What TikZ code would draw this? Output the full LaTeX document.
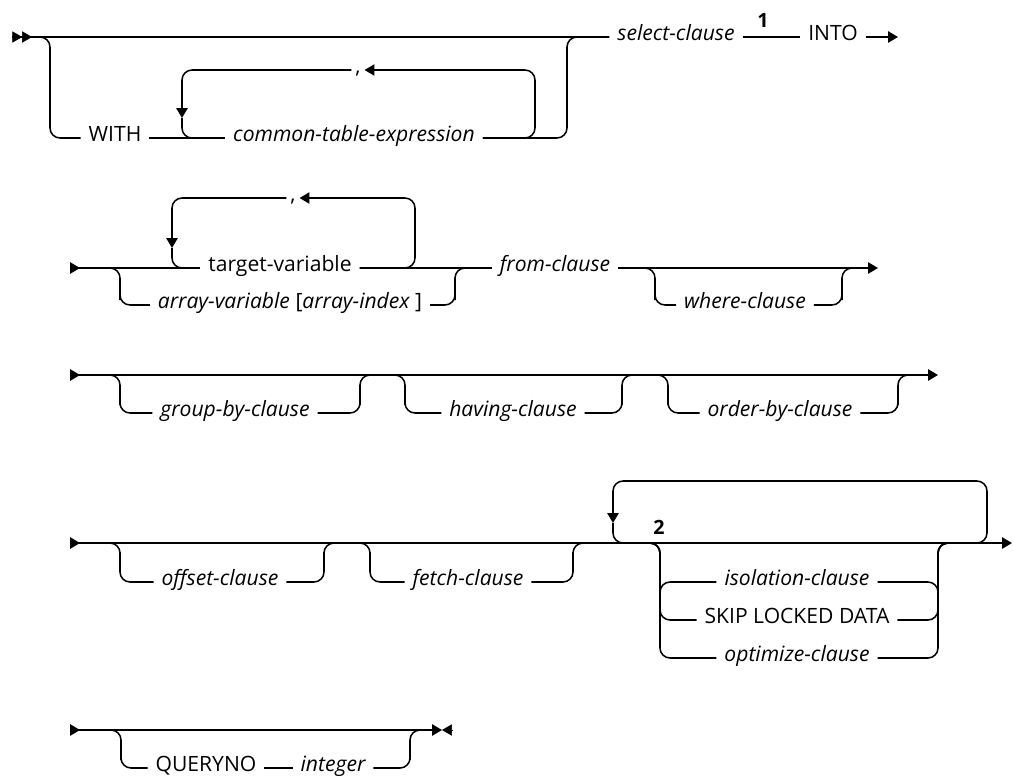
\documentclass[tikz,border=0pt]{standalone}
\usepackage{fontspec}
\setmainfont{Open Sans}
\usetikzlibrary{arrows.meta,positioning}

\begin{document}
\begin{tikzpicture}[x={(0.025cm,0)},y={(0,-0.025cm)},
  rail/.style={line width=1.1pt,rounded corners=0.25cm},
  tip/.style={-{Triangle[length=7pt,width=8pt]}},
  dbl/.style={-{Triangle[length=7pt,width=8pt]Triangle[length=7pt,width=8pt]}},
  term/.style={anchor=mid,inner xsep=0.2cm,inner ysep=0pt,outer sep=0pt,
    font=\fontsize{15}{17}\selectfont},
  kw/.style={term},
  var/.style={term,font=\fontsize{15}{17}\selectfont\itshape},
  sep/.style={term,inner xsep=0.1cm},
  note/.style={inner sep=0pt,font=\fontsize{14}{16}\selectfont\bfseries}
]
\useasboundingbox (0,0) rectangle (1013,778);

% row 1: WITH ... select-clause INTO
\coordinate (s1) at (12,37);
\coordinate (e1) at (898,37);
\coordinate (v1) at (50,90);
\coordinate (v2) at (567,90);
\coordinate (v3) at (535,100);
\coordinate (a1) at (182,118);
\coordinate (j1) at (205,138);
\node[kw] (with) at (115,138) {WITH};
\node[var] (cte) at (354,138) {common-table-expression};
\node[sep] (comma1) at (358,70) {,};
\node[var] (sel) at (676,37) {select-clause};
\node[note] (n1) at (763,20) {1};
\node[kw] (into) at (833,37) {INTO};

\draw[dbl] (s1) -- ++(20,0);
\draw[rail] (s1) -- (sel.mid west);
\draw[rail] (s1) -| (v1) |- (with.mid west);
\draw[rail] (with.mid east) -- (cte.mid west);
\draw[rail] (cte.mid east) -| (v2) |- (sel.mid west);
\draw[rail,tip] (cte.mid east) -| (v3) |- (comma1.mid east);
\draw[rail,tip] (comma1.mid west) -| (a1);
\draw[rail] (a1) |- (j1);
\draw[rail] (sel.mid east) -- (into.mid west);
\draw[rail,tip] (into.mid east) -- (e1);

% row 2: targets, from-clause, where-clause
\coordinate (s2) at (70,268);
\coordinate (e2) at (878,268);
\coordinate (v4) at (120,290);
\coordinate (v5) at (455,290);
\coordinate (v6) at (415,230);
\coordinate (v7) at (655,290);
\coordinate (v8) at (842,290);
\coordinate (a2) at (172,248);
\coordinate (j2) at (195,268);
\coordinate (k0) at (860,268);
\node[kw] (tvar) at (280,268) {target-variable};
\node[sep] (comma2) at (293,198) {,};
\node[term] (avar) at (290,305) {\itshape array-variable \upshape[\itshape array-index \upshape]};
\node[var] (from) at (555,268) {from-clause};
\node[var] (where) at (745,305) {where-clause};

\draw[rail,tip] (s2) -- ++(10,0);
\draw[rail] (s2) -- (tvar.mid west);
\draw[rail] (s2) -| (v4) |- (avar.mid west);
\draw[rail] (tvar.mid east) -- (from.mid west);
\draw[rail] (avar.mid east) -| (v5) |- (from.mid west);
\draw[rail,tip] (tvar.mid east) -| (v6) |- (comma2.mid east);
\draw[rail,tip] (comma2.mid west) -| (a2);
\draw[rail] (a2) |- (j2);
\draw[rail,tip] (from.mid east) -- (e2);
\draw[rail] (from.mid east) -| (v7) |- (where.mid west);
\draw[rail] (where.mid east) -| (v8) |- (k0);

% row 3: group-by, having, order-by
\coordinate (s3) at (70,375);
\coordinate (e3) at (938,375);
\coordinate (v9) at (120,395);
\coordinate (v10) at (360,395);
\coordinate (v11) at (405,395);
\coordinate (v12) at (622,395);
\coordinate (v13) at (668,395);
\coordinate (v14) at (898,395);
\coordinate (k1) at (383,375);
\coordinate (k2) at (645,375);
\coordinate (k3) at (918,375);
\node[var] (group) at (235,413) {group-by-clause};
\node[var] (having) at (513,413) {having-clause};
\node[var] (order) at (780,413) {order-by-clause};

\draw[rail,tip] (s3) -- ++(10,0);
\draw[rail,tip] (s3) -- (e3);
\draw[rail] (s3) -| (v9) |- (group.mid west);
\draw[rail] (group.mid east) -| (v10) |- (k1);
\draw[rail] (k1) -| (v11) |- (having.mid west);
\draw[rail] (having.mid east) -| (v12) |- (k2);
\draw[rail] (k2) -| (v13) |- (order.mid west);
\draw[rail] (order.mid east) -| (v14) |- (k3);

% row 4: offset, fetch, repeated options
\coordinate (s4) at (70,543);
\coordinate (e4) at (1012,543);
\coordinate (v15) at (120,562);
\coordinate (v16) at (324,562);
\coordinate (v17) at (370,562);
\coordinate (v18) at (573,562);
\coordinate (v19) at (660,600);
\coordinate (v20) at (938,600);
\coordinate (k4) at (347,543);
\coordinate (k5) at (640,543);
\coordinate (k6) at (960,543);
\coordinate (t4) at (987,481);
\coordinate (a4) at (613,523);
\coordinate (j4) at (635,543);
\node[var] (offset) at (220,582) {offset-clause};
\node[var] (fetch) at (468,582) {fetch-clause};
\node[note] (n2) at (659,527) {2};
\node[var] (isol) at (797,582) {isolation-clause};
\node[kw] (skip) at (797,620) {SKIP LOCKED DATA};
\node[var] (optim) at (797,658) {optimize-clause};

\draw[rail,tip] (s4) -- ++(10,0);
\draw[rail,tip] (s4) -- (e4);
\draw[rail] (s4) -| (v15) |- (offset.mid west);
\draw[rail] (offset.mid east) -| (v16) |- (k4);
\draw[rail] (k4) -| (v17) |- (fetch.mid west);
\draw[rail] (fetch.mid east) -| (v18) |- (k5);
\draw[rail] (k5) -| (v19) |- (isol.mid west);
\draw[rail] (k5) -| (v19) |- (skip.mid west);
\draw[rail] (k5) -| (v19) |- (optim.mid west);
\draw[rail] (isol.mid east) -| (v20) |- (k6);
\draw[rail] (skip.mid east) -| (v20) |- (k6);
\draw[rail] (optim.mid east) -| (v20) |- (k6);
\draw[rail,tip] (k6) -| (t4) -| (a4);
\draw[rail] (a4) |- (j4);

% row 6: QUERYNO integer
\coordinate (s6) at (70,730);
\coordinate (e6) at (442,730);
\coordinate (r6) at (453,730);
\coordinate (v21) at (121,750);
\coordinate (v22) at (410,750);
\coordinate (k7) at (425,730);
\node[kw] (qno) at (206,768) {QUERYNO};
\node[var] (intg) at (333,768) {integer};

\draw[rail,tip] (s6) -- ++(10,0);
\draw[rail,tip] (s6) -- (e6);
\draw[tip] (r6) -- (e6);
\draw[rail] (s6) -| (v21) |- (qno.mid west);
\draw[rail] (qno.mid east) -- (intg.mid west);
\draw[rail] (intg.mid east) -| (v22) |- (k7);
\end{tikzpicture}
\end{document}
